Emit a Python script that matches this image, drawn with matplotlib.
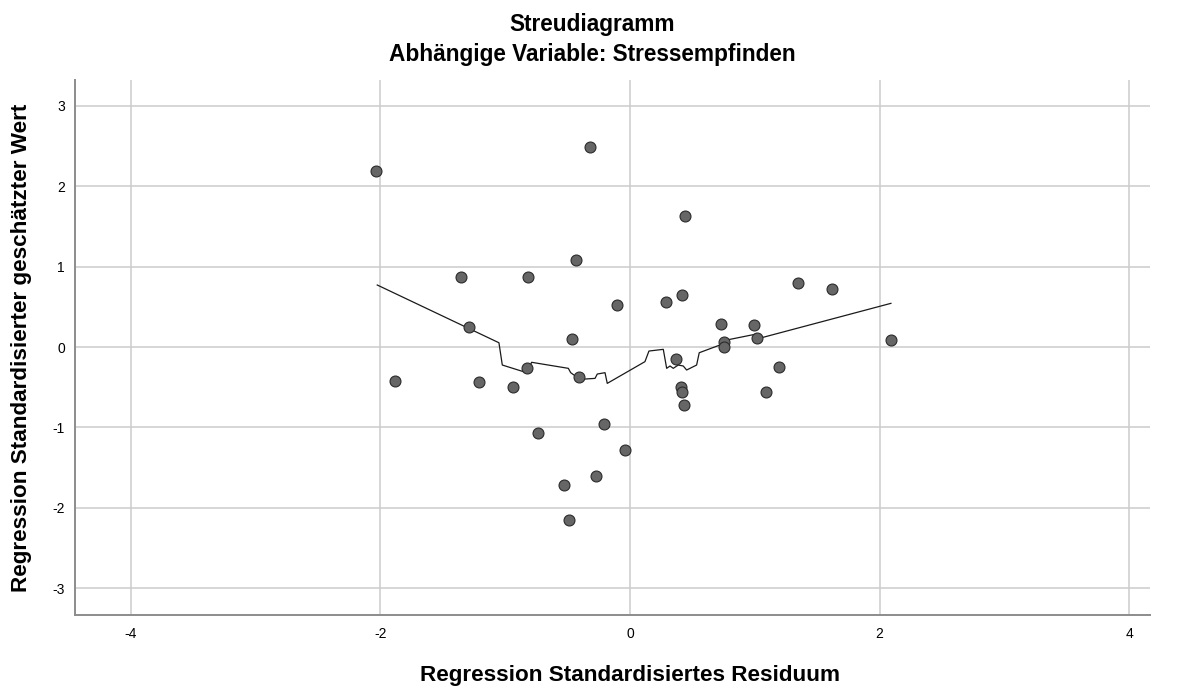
import matplotlib
matplotlib.use("Agg")
import matplotlib.pyplot as plt

plt.rcParams['font.family'] = ['Liberation Sans', 'DejaVu Sans']

# Scatter data: standardized residual (x) vs standardized predicted value (y)
resid = [-2.035, -0.323, 0.443, -0.435, -1.354, -0.817, -0.107, 0.291, 0.417,
         -1.288, -0.465, 0.371, -1.883, -1.210, -0.938, -0.825, -0.411, 0.409,
         0.417, 0.433, -0.737, -0.211, -0.042, -0.275, -0.531, -0.486, 0.727,
         0.996, 1.344, 1.621, 0.753, 0.756, 1.015, 2.094, 1.192, 1.090]
pred = [2.192, 2.488, 1.629, 1.078, 0.867, 0.874, 0.526, 0.563, 0.647,
        0.252, 0.103, -0.153, -0.419, -0.435, -0.494, -0.265, -0.373, -0.501,
        -0.563, -0.717, -1.069, -0.961, -1.285, -1.608, -1.716, -2.151, 0.282,
        0.274, 0.792, 0.721, 0.058, 0.004, 0.108, 0.083, -0.252, -0.563]

# Fit line (loess) vertices
fit_x = [-2.025, -1.050, -1.023, -0.828, -0.788, -0.494, -0.475, -0.401, -0.280,
         -0.262, -0.200, -0.182, 0.120, 0.152, 0.267, 0.294, 0.321, 0.347, 0.387,
         0.427, 0.454, 0.534, 0.555, 0.721, 0.775, 1.015, 1.036, 2.091]
fit_y = [0.771, 0.053, -0.224, -0.319, -0.190, -0.265, -0.319, -0.402, -0.390,
         -0.336, -0.319, -0.452, -0.182, -0.050, -0.029, -0.265, -0.236, -0.265,
         -0.224, -0.236, -0.286, -0.224, -0.071, 0.025, 0.087, 0.162, 0.108, 0.543]

xticks = [-4, -2, 0, 2, 4]
yticks = [-3, -2, -1, 0, 1, 2, 3]

W, H = 1180, 689
fig = plt.figure(figsize=(W / 100, H / 100), dpi=100)
ax = fig.add_axes([75 / W, 1 - 615 / H, (1150 - 75) / W, (615 - 80) / H])

ax.set_xlim(-4.447, 4.167)
ax.set_ylim(-3.332, 3.320)
ax.set_xticks(xticks)
ax.set_yticks(yticks)
ax.set_xticklabels([str(t) for t in xticks])
ax.set_yticklabels([str(t) for t in yticks])
ax.tick_params(length=0, labelsize=10, colors='#000000')
ax.tick_params(axis='x', pad=9)
ax.tick_params(axis='y', pad=7.2)

ax.grid(True, color='#cccccc', linewidth=1.1)
ax.set_axisbelow(True)
for s in ['top', 'right']:
    ax.spines[s].set_visible(False)
for s in ['left', 'bottom']:
    ax.spines[s].set_color('#8c8c8c')
    ax.spines[s].set_linewidth(1.4)

ax.plot(fit_x, fit_y, color='#1a1a1a', linewidth=0.9, zorder=3)
ax.scatter(resid, pred, s=62, facecolor='#666666', edgecolor='#2b2b2b',
           linewidth=0.8, zorder=4)

fig.text(592 / W, 1 - 31.5 / H, 'Streudiagramm', ha='center', va='baseline',
         fontsize=16.3, fontweight='bold')
fig.text(592 / W, 1 - 60.5 / H, 'Abhängige Variable: Stressempfinden', ha='center',
         va='baseline', fontsize=16.3, fontweight='bold')
fig.text(630 / W, 1 - 681.5 / H, 'Regression Standardisiertes Residuum', ha='center',
         va='baseline', fontsize=16.2, fontweight='bold')
fig.text(22 / W, 1 - 347.5 / H, 'Regression Standardisierter geschätzter Wert',
         ha='center', va='center', rotation=90, fontsize=16.2, fontweight='bold')

fig.savefig('out.png', dpi=100, facecolor='white')
